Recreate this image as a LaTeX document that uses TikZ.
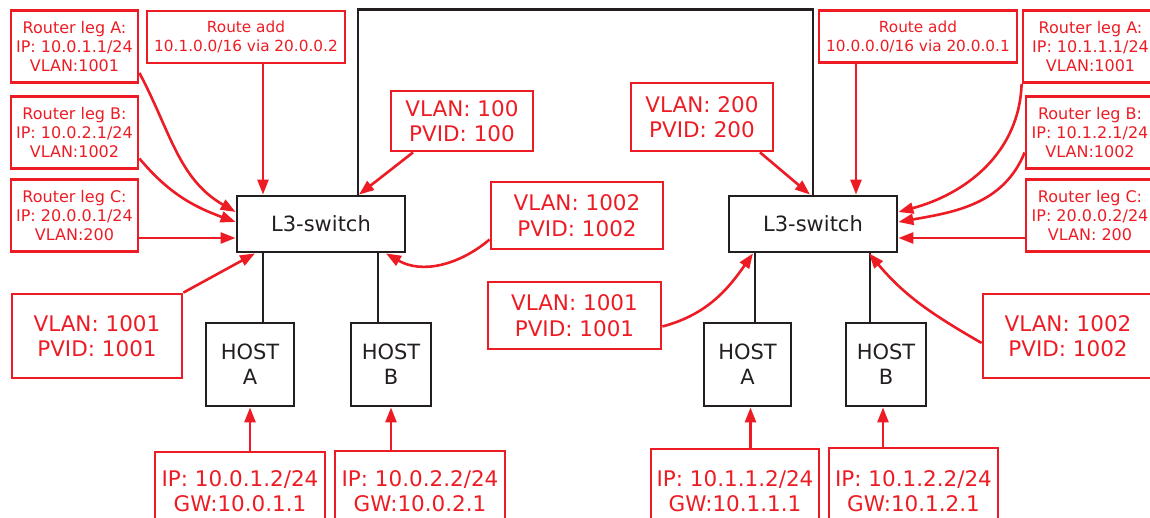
\documentclass[tikz,border=0pt]{standalone}
\usepackage{fontspec}
\setmainfont{DejaVu Sans}
\usetikzlibrary{arrows.meta}
\definecolor{netred}{RGB}{237,28,36}
\definecolor{netblack}{RGB}{35,31,32}

\begin{document}
\begin{tikzpicture}[>={Triangle[length=15pt,width=11pt]}, x=1pt, y=-1pt,
    redbox/.style={draw=netred, text=netred, line width=2.8pt, align=center, inner sep=0pt},
    legbox/.style={redbox, minimum width=127pt, minimum height=72pt, font=\fontsize{16}{19}\selectfont},
    routebox/.style={redbox, minimum width=198pt, minimum height=52pt, font=\fontsize{15.3}{19}\selectfont},
    pvidbox/.style={redbox, font=\fontsize{21.5}{25.5}\selectfont},
    ipbox/.style={redbox, font=\fontsize{21.5}{25.5}\selectfont},
    blackbox/.style={draw=netblack, text=netblack, line width=2.8pt, align=center, inner sep=0pt, font=\fontsize{21}{25}\selectfont},
    switch/.style={blackbox, minimum width=168pt, minimum height=56pt},
    host/.style={blackbox, minimum height=83pt},
    redarrow/.style={->, draw=netred, line width=2.6pt},
    link/.style={draw=netblack, line width=2.8pt}]

    \useasboundingbox (0,0) rectangle (1150,517);

    %define left site
    \node[legbox] (legLA) at (74.5,46.5) {Router leg A:\\IP: 10.0.1.1/24\\VLAN:1001};
    \node[legbox] (legLB) at (74.5,132.5) {Router leg B:\\IP: 10.0.2.1/24\\VLAN:1002};
    \node[legbox] (legLC) at (74.5,215.5) {Router leg C:\\IP: 20.0.0.1/24\\VLAN:200};
    \node[routebox] (routeL) at (246,37) {Route add\\10.1.0.0/16 via 20.0.0.2};
    \node[switch] (swL) at (321,224) {L3-switch};
    \node[pvidbox, minimum width=142pt, minimum height=60pt] (vlanL100) at (462,121) {VLAN: 100\\PVID: 100};
    \node[pvidbox, minimum width=172pt, minimum height=67pt] (vlanL1002) at (577,215.5) {VLAN: 1002\\PVID: 1002};
    \node[pvidbox, minimum width=170pt, minimum height=84pt] (vlanL1001) at (97,336) {VLAN: 1001\\PVID: 1001};
    \node[host, minimum width=88pt] (hostLA) at (250,364.5) {HOST\\A};
    \node[host, minimum width=80pt] (hostLB) at (391,364.5) {HOST\\B};
    \node[ipbox, minimum width=170pt, minimum height=78pt] (ipLA) at (240,491) {IP: 10.0.1.2/24\\GW:10.0.1.1};
    \node[ipbox, minimum width=170pt, minimum height=80pt] (ipLB) at (420,491) {IP: 10.0.2.2/24\\GW:10.0.2.1};

    %define right site
    \node[legbox, minimum width=135pt] (legRA) at (1090.5,46.5) {Router leg A:\\IP: 10.1.1.1/24\\VLAN:1001};
    \node[legbox, minimum width=128pt] (legRB) at (1090,132.5) {Router leg B:\\IP: 10.1.2.1/24\\VLAN:1002};
    \node[legbox, minimum width=128pt] (legRC) at (1090,215.5) {Router leg C:\\IP: 20.0.0.2/24\\VLAN: 200};
    \node[routebox] (routeR) at (918,36.5) {Route add\\10.0.0.0/16 via 20.0.0.1};
    \node[switch] (swR) at (813,224) {L3-switch};
    \node[pvidbox, minimum width=142pt, minimum height=68pt] (vlanR200) at (702,117) {VLAN: 200\\PVID: 200};
    \node[pvidbox, minimum width=173pt, minimum height=67pt] (vlanR1001) at (574.5,315.5) {VLAN: 1001\\PVID: 1001};
    \node[pvidbox, minimum width=170pt, minimum height=84pt] (vlanR1002) at (1068,336) {VLAN: 1002\\PVID: 1002};
    \node[host, minimum width=87pt] (hostRA) at (747.5,364.5) {HOST\\A};
    \node[host, minimum width=80pt] (hostRB) at (886,364.5) {HOST\\B};
    \node[ipbox, minimum width=168pt, minimum height=84pt] (ipRA) at (735,491) {IP: 10.1.1.2/24\\GW:10.1.1.1};
    \node[ipbox, minimum width=169pt, minimum height=86pt] (ipRB) at (913.5,491) {IP: 10.1.2.2/24\\GW:10.1.2.1};

    %define the cabling
    \draw[link] ([xshift=37]swL.north) -- ++(0,-185) -| (swR.north);
    \draw[link] ([xshift=13]hostLA.north) -- ([xshift=13]hostLA.north |- swL.south);
    \draw[link] ([xshift=-13]hostLB.north) -- ([xshift=-13]hostLB.north |- swL.south);
    \draw[link] ([xshift=7.5]hostRA.north) -- ([xshift=7.5]hostRA.north |- swR.south);
    \draw[link] ([xshift=-16]hostRB.north) -- ([xshift=-16]hostRB.north |- swR.south);

    %define the notes, left
    \draw[redarrow] ([yshift=11]legLA.south east) to[out=-62, in=150] ([yshift=12]swL.west);
    \draw[redarrow] ([yshift=-26]legLB.east) to[out=-50, in=160] ([yshift=2]swL.west);
    \draw[redarrow] ([yshift=-14]swL.west -| legLC.east) -- ([yshift=-14]swL.west);
    \draw[redarrow] ([xshift=-58]swL.north |- routeL.south) -- ([xshift=-58]swL.north);
    \draw[redarrow] ([xshift=-49]vlanL100.south) -- ([xshift=38]swL.north);
    \draw[redarrow] ([yshift=-24]vlanL1002.west) to[out=-140, in=-30] ([xshift=65]swL.south);
    \draw[redarrow] (vlanL1001.north east) -- ([xshift=-66]swL.south);
    \draw[redarrow] (hostLA.south |- ipLA.north) -- (hostLA.south);
    \draw[redarrow] (hostLB.south |- ipLB.north) -- (hostLB.south);

    %define the notes, right
    \draw[redarrow] (legRA.south west) to[out=-92, in=15] ([yshift=12]swR.east);
    \draw[redarrow] ([yshift=-20]legRB.west) to[out=-112, in=10] ([yshift=2]swR.east);
    \draw[redarrow] ([yshift=-14]swR.east -| legRC.west) -- ([yshift=-14]swR.east);
    \draw[redarrow] ([xshift=43]swR.north |- routeR.south) -- ([xshift=43]swR.north);
    \draw[redarrow] ([xshift=58]vlanR200.south) -- ([xshift=-3]swR.north);
    \draw[redarrow] ([yshift=-11]vlanR1001.east) to[out=15, in=-125] ([xshift=-60]swR.south);
    \draw[redarrow] ([yshift=-7]vlanR1002.west) to[out=150, in=-50] ([xshift=56]swR.south);
    \draw[redarrow] ([xshift=3]hostRA.south |- ipRA.north) -- ([xshift=3]hostRA.south);
    \draw[redarrow] ([xshift=-3]hostRB.south |- ipRB.north) -- ([xshift=-3]hostRB.south);

\end{tikzpicture}
\end{document}
